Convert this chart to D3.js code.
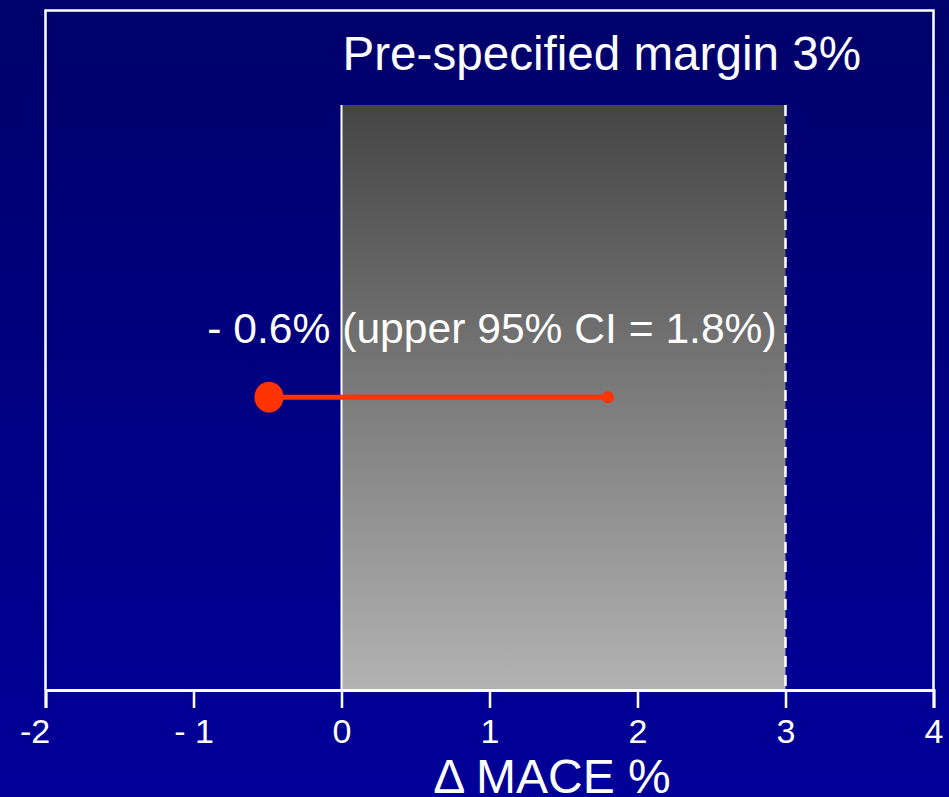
<!DOCTYPE html>
<html>
<head>
<meta charset="utf-8">
<script src="https://cdn.jsdelivr.net/npm/d3@7"></script>
<style>
  html, body { margin: 0; padding: 0; background: #000080; }
  svg { display: block; }
  text { font-family: "Liberation Sans", Arial, sans-serif; fill: #fff; }
</style>
</head>
<body>
<div id="chart"></div>
<script>
// ---- data ----
const xTicks = [-2, -1, 0, 1, 2, 3, 4];
const xTickLabels = ["-2", "- 1", "0", "1", "2", "3", "4"];
const marginBand = [0, 3];          // non-inferiority margin region (Δ MACE %)
const pointEstimate = [-0.49];      // plotted point estimate position
const upperCI = [1.8];              // upper 95% CI
const titleText = "Pre-specified margin 3%";
const annotationText = "- 0.6% (upper 95% CI = 1.8%)";
const axisTitle = "\u0394 MACE %";

const W = 949, H = 797;
const svg = d3.select("#chart").append("svg").attr("width", W).attr("height", H);

const defs = svg.append("defs");
const bg = defs.append("linearGradient").attr("id", "bg").attr("x1", 0).attr("y1", 0).attr("x2", 0).attr("y2", 1);
bg.append("stop").attr("offset", "0%").attr("stop-color", "#00006a");
bg.append("stop").attr("offset", "100%").attr("stop-color", "#000099");
const gr = defs.append("linearGradient").attr("id", "gr").attr("x1", 0).attr("y1", 0).attr("x2", 0).attr("y2", 1);
gr.append("stop").attr("offset", "0%").attr("stop-color", "#444444");
gr.append("stop").attr("offset", "100%").attr("stop-color", "#b3b3b3");

svg.append("rect").attr("width", W).attr("height", H).attr("fill", "url(#bg)");

const x = d3.scaleLinear().domain([-2, 4]).range([45.5, 933.5]);
const y = d3.scaleLinear().domain([0, 1]).range([690, 10.5]);
const bandTop = 0.861, rowY = 0.431;

// margin band
svg.append("rect")
  .attr("x", x(marginBand[0])).attr("y", y(bandTop))
  .attr("width", x(marginBand[1]) - x(marginBand[0]))
  .attr("height", y(0) - y(bandTop))
  .attr("fill", "url(#gr)");
svg.append("line")
  .attr("x1", x(marginBand[0])).attr("x2", x(marginBand[0]))
  .attr("y1", y(bandTop)).attr("y2", y(0))
  .attr("stroke", "#fff").attr("stroke-width", 2);
svg.append("line")
  .attr("x1", x(marginBand[1])).attr("x2", x(marginBand[1]))
  .attr("y1", y(bandTop)).attr("y2", y(0))
  .attr("stroke", "#fff").attr("stroke-width", 2.5).attr("stroke-dasharray", "11,8");

// plot box (left, top, right)
svg.append("path")
  .attr("d", `M${x(-2)},${y(0)} V${y(1)} H${x(4)} V${y(0)}`)
  .attr("fill", "none").attr("stroke", "#fff").attr("stroke-width", 2.5);

// x axis
const axis = d3.axisBottom(x).tickValues(xTicks).tickSize(18).tickPadding(12)
  .tickFormat((d, i) => xTickLabels[i]);
const gAx = svg.append("g").attr("transform", `translate(0,${y(0)})`).call(axis);
gAx.select(".domain").attr("stroke", "#fff").attr("stroke-width", 3);
gAx.selectAll(".tick line").attr("stroke", "#fff").attr("stroke-width", 2.5);
gAx.selectAll(".tick text")
  .attr("fill", "#fff").attr("font-size", 34)
  .attr("font-family", "Liberation Sans, Arial, sans-serif")
  .attr("dy", "0.68em")
  .attr("dx", (d, i) => i === 0 ? -11 : 0);

// CI line and points
svg.append("line")
  .attr("x1", x(pointEstimate[0])).attr("x2", x(upperCI[0]))
  .attr("y1", y(rowY)).attr("y2", y(rowY))
  .attr("stroke", "#ff3300").attr("stroke-width", 5);
svg.append("ellipse")
  .attr("cx", x(pointEstimate[0])).attr("cy", y(rowY))
  .attr("rx", 14.5).attr("ry", 15.5).attr("fill", "#ff3300");
svg.append("circle")
  .attr("cx", x(upperCI[0])).attr("cy", y(rowY))
  .attr("r", 6).attr("fill", "#ff3300");

// texts
svg.append("text").attr("x", x(0) + 1).attr("y", 70)
  .attr("font-size", 47.6).text(titleText);
svg.append("text").attr("x", 492).attr("y", 343)
  .attr("text-anchor", "middle").attr("font-size", 42.6).text(annotationText);
svg.append("text").attr("x", 552).attr("y", 793)
  .attr("text-anchor", "middle").attr("font-size", 48).text(axisTitle);
</script>
</body>
</html>
